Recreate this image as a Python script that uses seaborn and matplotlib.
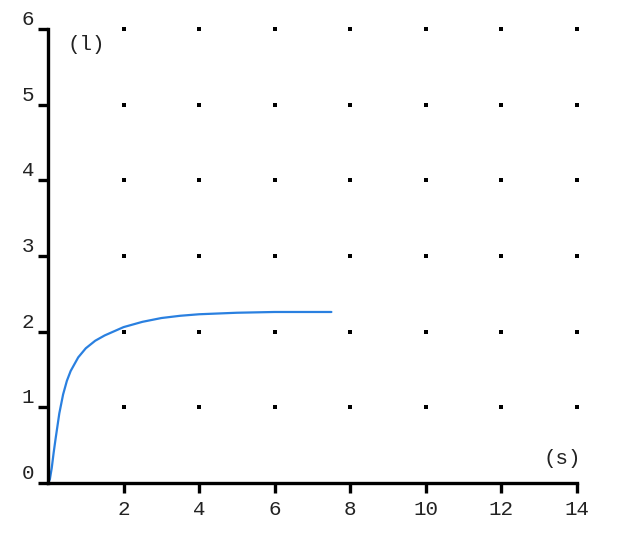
import numpy as np
import pandas as pd
import seaborn as sns
import matplotlib.pyplot as plt

# curve: time (s) vs volume (l)
time_s = [0, 0.05, 0.1, 0.15, 0.2, 0.3, 0.4, 0.5, 0.6, 0.8, 1.0, 1.25, 1.5, 2.0, 2.5, 3.0, 3.5, 4.0, 5.0, 6.0, 7.0, 7.5]
volume_l = [0, 0.05, 0.2, 0.4, 0.58, 0.92, 1.17, 1.35, 1.48, 1.66, 1.78, 1.88, 1.95, 2.06, 2.13, 2.18, 2.21, 2.23, 2.25, 2.26, 2.26, 2.26]

x_ticks = [2, 4, 6, 8, 10, 12, 14]
y_ticks = [0, 1, 2, 3, 4, 5, 6]
dot_x = [2, 4, 6, 8, 10, 12, 14]
dot_y = [1, 2, 3, 4, 5, 6]

sns.set_style("white")
plt.rcParams['font.family'] = ['Liberation Mono', 'DejaVu Sans']

fig = plt.figure(figsize=(6.28, 5.36), dpi=100)
ax = fig.add_axes([0.0764, 0.0989, 0.8424, 0.8470])

df = pd.DataFrame({"t": time_s, "v": volume_l})
sns.lineplot(data=df, x="t", y="v", ax=ax, color="#2a80e0", linewidth=1.6, clip_on=False)

gx, gy = np.meshgrid(dot_x, dot_y)
ax.scatter(gx.ravel(), gy.ravel(), marker="s", s=5, color="black", linewidths=0, clip_on=False)

ax.set_xlim(0, 14)
ax.set_ylim(0, 6)
ax.set_xticks(x_ticks)
ax.set_yticks(y_ticks)
ax.set_xlabel("")
ax.set_ylabel("")
for side in ["top", "right"]:
    ax.spines[side].set_visible(False)
for side in ["left", "bottom"]:
    ax.spines[side].set_linewidth(2.4)
    ax.spines[side].set_color("black")
ax.tick_params(axis="both", direction="out", length=7, width=2.4, color="black",
               bottom=True, left=True, labelsize=15, labelcolor="#222222")
ax.tick_params(axis="x", pad=5)
ax.tick_params(axis="y", pad=3)
for lbl in ax.get_yticklabels():
    lbl.set_verticalalignment("bottom")

ax.text(1.0, 5.8, "(l)", fontsize=15, ha="center", va="center", color="#222222")
ax.text(13.6, 0.32, "(s)", fontsize=15, ha="center", va="center", color="#222222")

plt.savefig("out.png", dpi=100)
